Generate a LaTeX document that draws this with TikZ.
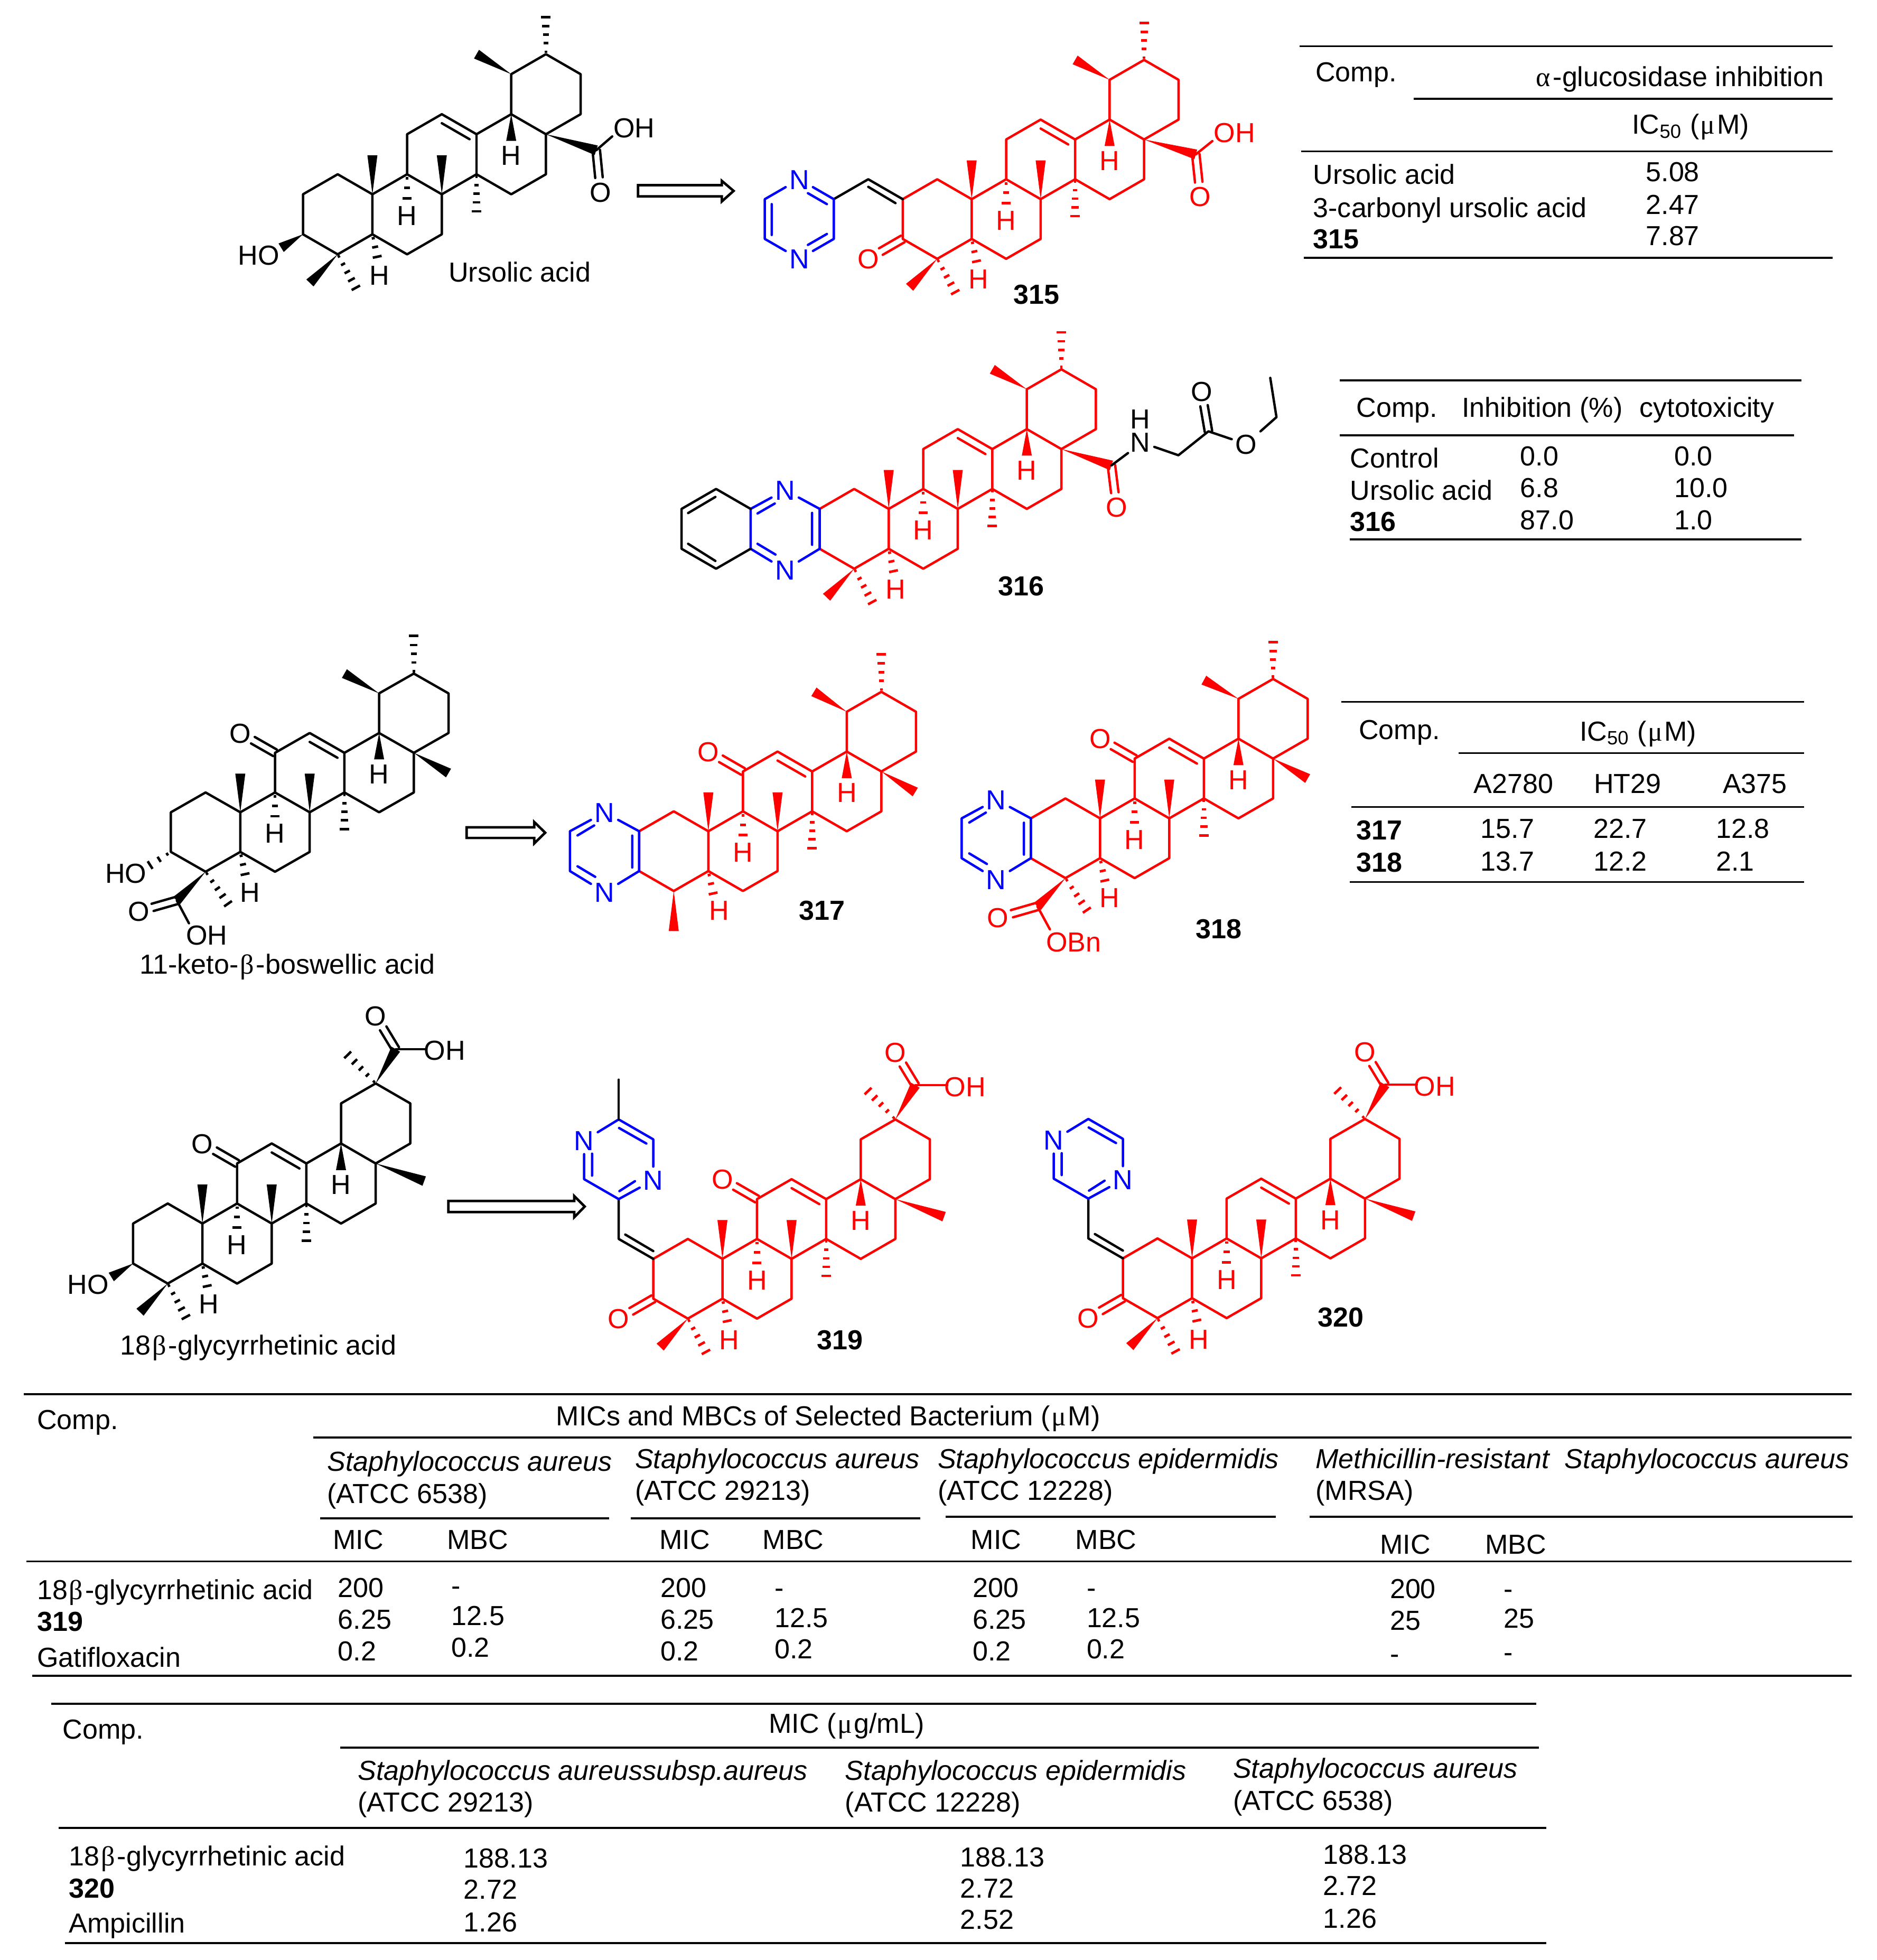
\documentclass[tikz,border=0pt]{standalone}
\usepackage{fontspec}
\setmainfont{Liberation Sans}
\newfontfamily\grk{Liberation Serif}
\usetikzlibrary{calc}
\newcount\nn
\newcommand\bet{{\grk\kern.05em β\kern.08em}}
\newcommand\mun{{\grk\kern.05em μ\kern.06em}}
\newcommand\alp{{\grk α\kern.1em}}
\tikzset{
 atom/.style={font=\fontsize{11}{13}\selectfont,inner sep=1pt,text height=7.9pt,text depth=0pt},
 tlab/.style={font=\fontsize{11}{13}\selectfont,inner sep=0pt,text height=7.9pt,text depth=0pt,anchor=west},
 tline/.style={line width=.8pt,line cap=butt},
 hollow/.style={draw=black,fill=white,line width=1pt,line join=miter},
}
\newcommand\wedgeb[2]{\fill (#1) -- ($(#2)!2pt!90:(#1)$) -- ($(#2)!2pt!-90:(#1)$) -- cycle;}
\newcommand\hashb[2]{\foreach \hp/\hw in {.06/.5pt,.28/.9pt,.5/1.2pt,.72/1.5pt,.95/1.9pt}{%
  \coordinate (hm) at ($(#1)!\hp!(#2)$);
  \draw[line width=1pt,line cap=butt] ($(hm)!\hw!90:(#1)$) -- ($(hm)!\hw!-90:(#1)$);}}
\newcommand\hashs[2]{\foreach \hp/\hw in {.16/.6pt,.52/1.2pt,.92/1.8pt}{%
  \coordinate (hm) at ($(#1)!\hp!(#2)$);
  \draw[line width=1pt,line cap=butt] ($(hm)!\hw!90:(#1)$) -- ($(hm)!\hw!-90:(#1)$);}}
\newcommand\dblo[2]{%
  \draw[shorten >=5.8pt] ($(#1)!1.5pt!90:(#2.center)$) -- ($(#2.center)!1.5pt!-90:(#1)$);
  \draw[shorten >=5.8pt] ($(#1)!1.5pt!-90:(#2.center)$) -- ($(#2.center)!1.5pt!90:(#1)$);}
\newcommand\lab[2]{\global\advance\nn by 1 \node[atom] (a\the\nn) at (#1) {#2};}
\newcommand\tx[3]{\global\advance\nn by 1 \node[tlab] (a\the\nn) at ({#1-1.3},{#2-.8}) {#3};}
% core skeleton; #1 = position of the C5 H label
\newcommand\core[1]{%
 \coordinate (c1) at (1,4); \coordinate (c2) at (0,3); \coordinate (c3) at (0,1); \coordinate (c4) at (1,0);
 \coordinate (c5) at (2,1); \coordinate (c6) at (3,0); \coordinate (c7) at (4,1); \coordinate (c8) at (4,3);
 \coordinate (c9) at (3,4); \coordinate (c10) at (2,3); \coordinate (c11) at (3,6); \coordinate (c12) at (4,7);
 \coordinate (c13) at (5,6); \coordinate (c14) at (5,4); \coordinate (c15) at (6,3); \coordinate (c16) at (7,4);
 \coordinate (c17) at (7,6); \coordinate (c18) at (6,7); \coordinate (c19) at (6,9); \coordinate (c20) at (7,10);
 \coordinate (c21) at (8,9); \coordinate (c22) at (8,7);
 \draw (c4)--(c3)--(c2)--(c1)--(c10)--(c5)--(c4) (c10)--(c9)--(c8)--(c7)--(c6)--(c5)
  (c9)--(c11)--(c12)--(c13)--(c14)--(c8) (c13)--(c18)--(c17)--(c16)--(c15)--(c14)
  (c18)--(c19)--(c20)--(c21)--(c22)--(c17);
 \coordinate (d1) at (4,6.55); \coordinate (d2) at (4.8,5.75); \draw (d1)--(d2);
 \wedgeb{c10}{2,4.95} \wedgeb{c8}{4,4.95} \wedgeb{c18}{6,5.67}
 \hashs{c9}{3,2.7} \hashb{c14}{5,2.05} \hashs{c5}{2.15,-.22}
 \lab{3,1.95}{H} \lab{6,4.95}{H} \lab{#1}{H}
}
\newcommand\ursE{\wedgeb{c19}{5,10} \hashb{c20}{7,11.95}}
\newcommand\gem{\wedgeb{c4}{.2,-1.43} \hashb{c4}{1.55,-1.76}}
\newcommand\ketone{\node[atom] (o11) at (2,7) {O}; \dblo{c11}{o11}}
\newcommand\glycE{%
 \coordinate (gc) at (7.58,11.72); \wedgeb{c20}{gc} \hashb{c20}{6.17,11.5}
 \node[atom] (go) at (7,13.38) {O}; \dblo{gc}{go}
 \coordinate (gh) at (8.5,11.72); \draw (gc)--(gh); \lab{9.02,11.66}{OH}
 \wedgeb{c17}{8.41,5.12}}
\newcommand\exoketo{%
 \node[atom] (o3) at (-1,0) {O}; \dblo{c3}{o3}}
\newcommand\pyrazup{% pyrazine standing on the exocyclic CH, for 319 and 320
 \coordinate (ch) at (-1,4); \coordinate (p1) at (-1,6); \coordinate (p3) at (0,9);
 \coordinate (p4) at (-1,10); \coordinate (p6) at (-2,7);
 \node[atom,blue] (n1) at (0,6.95) {N}; \node[atom,blue] (n2) at (-2,8.94) {N};
 \draw[black] (c2)--(ch)--(p1);
 \draw[black] (-.81,4.22)--(0,3.39);
 \draw[blue] (p1)--(n1) (n1)--(p3)--(p4)--(n2) (n2)--(p6)--(p1);
 \draw[blue] (-.98,6.4)--(-.53,6.9) (-.2,8.79)--(-.99,9.57) (-1.77,8.28)--(-1.77,7.18);}
\newcommand\fusedpyr{% pyrazine fused on C2-C3, for 317 and 318
 \coordinate (q1) at (-2,3); \coordinate (q2) at (-2,1);
 \node[atom,blue] (nt) at (-1,3.94) {N}; \node[atom,blue] (nb) at (-1,-.06) {N};
 \draw[blue] (c2)--(c3) (c2)--(nt)--(q1)--(q2)--(nb)--(c3);
 \draw[blue] (-.2,2.78)--(-.2,1.18) (-1.78,2.79)--(-1.3,3.29) (-1.78,1.24)--(-1.27,.71);}
\begin{document}
\begin{tikzpicture}[x=.5pt,y=-.5pt,line width=.95pt,line cap=round,line join=round]
\useasboundingbox (0,0) rectangle (1500,1566.7);

%% Ursolic acid
\begin{scope}[shift={(242.2,203.3)},x=13.87pt,y=8pt]
 \core{2.2,-1.03} \ursE \gem
 \coordinate (cc) at (8.45,5.2); \wedgeb{c17}{cc}
 \node[atom] (ox) at (8.57,3.11) {O}; \dblo{cc}{ox}
 \coordinate (oh) at (8.91,5.89); \draw (cc)--(oh); \lab{9.54,6.32}{OH}
 \wedgeb{c3}{-.63,.33} \lab{-1.28,-.04}{HO}
\end{scope}
\tx{359}{218.2}{Ursolic acid}
\draw[hollow] (510,148)--(577,148)--(577,144.6)--(586.4,152.6)--(577,161)--(577,157)--(510,157)--cycle;

%% 315
\begin{scope}[shift={(721.6,206.9)},x=13.78pt,y=7.95pt,color=red]
 \core{2.2,-1} \ursE \gem \exoketo
 \coordinate (cc) at (8.5,5.25); \wedgeb{c17}{cc}
 \node[atom] (ox) at (8.63,3.13) {O}; \dblo{cc}{ox}
 \coordinate (oh) at (8.98,5.92); \draw (cc)--(oh); \lab{9.62,6.34}{OH}
 \coordinate (ch) at (-1,4); \coordinate (p1) at (-2,3); \coordinate (p2) at (-2,1);
 \coordinate (p4) at (-4,1); \coordinate (p5) at (-4,3);
 \node[atom,blue] (n1) at (-3,4) {N}; \node[atom,blue] (n2) at (-3,0) {N};
 \draw[black] (c2)--(ch)--(p1) (-1,3.62)--(-.21,2.8);
 \draw[blue] (n1)--(p1)--(p2)--(n2)--(p4)--(p5)--(n1);
 \draw[blue] (-2.2,2.75)--(-2.75,3.3) (-2.2,1.25)--(-2.75,.7) (-3.8,2.75)--(-3.8,1.2);
\end{scope}
\tx{810.5}{236}{\bfseries 315}

%% 316
\begin{scope}[shift={(655.2,454.6)},x=13.8pt,y=7.97pt,color=red]
 \core{2.2,-1.01} \ursE \gem
 \coordinate (b1) at (-2,3); \coordinate (b2) at (-2,1); \coordinate (b3) at (-3,4);
 \coordinate (b4) at (-4,3); \coordinate (b5) at (-4,1); \coordinate (b6) at (-3,0);
 \node[atom,blue] (nt) at (-1,3.94) {N}; \node[atom,blue] (nb) at (-1,-.05) {N};
 \draw[blue] (c2)--(c3) (c2)--(nt)--(b1)--(b2)--(nb)--(c3);
 \draw[blue] (-.22,2.8)--(-.22,1.2) (-1.8,2.77)--(-1.3,3.27) (-1.8,1.25)--(-1.28,.71);
 \draw[black] (b1)--(b3)--(b4)--(b5)--(b6)--(b2) (-3.02,3.6)--(-3.81,2.79) (-3.81,1.25)--(-3.02,.39);
 \coordinate (cc) at (8.45,5.18); \wedgeb{c17}{cc}
 \node[atom] (ox) at (8.6,3.09) {O}; \dblo{cc}{ox}
 \node[black,font=\fontsize{11}{9.3}\selectfont,align=center,inner sep=0pt] (nh) at (9.29,6.92) {H\\N};
 \coordinate (nl) at (8.93,5.8); \coordinate (nr) at (9.69,6.11);
 \coordinate (ch2) at (10.39,5.69); \coordinate (cb) at (11.26,6.89);
 \node[atom,black] (o2) at (11.06,8.89) {O}; \node[atom,black] (oe) at (12.35,6.25) {O};
 \coordinate (e1) at (13.23,7.6); \coordinate (e2) at (13.05,9.57);
 \draw[black] (cc)--(nl) (nr)--(ch2)--(cb)--(oe)--(e1)--(e2);
 \begin{scope}[color=black]\dblo{cb}{o2}\end{scope}
\end{scope}
\tx{798.2}{469}{\bfseries 316}

%% 11-keto-beta-boswellic acid
\begin{scope}[shift={(136.6,696.8)},x=13.87pt,y=7.92pt]
 \core{2.28,-1.03} \wedgeb{c19}{5,10} \hashb{c20}{7,12} \ketone
 \wedgeb{c17}{8,4.98}
 \hashs{c3}{-.65,.28} \lab{-1.3,-.06}{HO}
 \coordinate (cc) at (.17,-1.45); \wedgeb{c4}{cc} \hashb{c4}{1.68,-1.7}
 \node[atom] (ox) at (-.93,-2) {O}; \dblo{cc}{ox}
 \coordinate (oh) at (.52,-2.6); \draw (cc)--(oh); \lab{1.03,-3.2}{OH}
\end{scope}
\tx{112}{771.2}{11-keto-\bet-boswellic acid}
\draw[hollow] (373,661.3)--(427,661.3)--(427,657)--(435.8,665.6)--(427,674.2)--(427,669.8)--(373,669.8)--cycle;

%% 317
\begin{scope}[shift={(510.9,712.2)},x=13.83pt,y=7.96pt,color=red]
 \core{2.31,-.97} \wedgeb{c19}{5.05,10} \hashb{c20}{7,11.98} \ketone \wedgeb{c17}{7.98,4.97}
 \wedgeb{c4}{1,-2.01} \fusedpyr
\end{scope}
\tx{639}{728.3}{\bfseries 317}

%% 318
\begin{scope}[shift={(824,701.9)},x=13.83pt,y=7.96pt,color=red]
 \core{2.28,-.98} \wedgeb{c19}{5,9.94} \hashb{c20}{7,11.95} \ketone \wedgeb{c17}{8,5}
 \fusedpyr
 \coordinate (cc) at (.19,-1.42); \wedgeb{c4}{cc} \hashb{c4}{1.65,-1.69}
 \node[atom] (ox) at (-.95,-1.99) {O}; \dblo{cc}{ox}
 \coordinate (oh) at (.55,-2.57); \draw (cc)--(oh); \lab{1.24,-3.2}{OBn}
\end{scope}
\tx{956.2}{743}{\bfseries 318}

%% 18beta-glycyrrhetinic acid
\begin{scope}[shift={(106.4,1026)},x=13.85pt,y=8pt]
 \core{2.19,-1} \ketone
 \coordinate (gc) at (7.58,11.71); \wedgeb{c20}{gc} \hashb{c20}{6.15,11.5}
 \node[atom] (go) at (7,13.37) {O}; \dblo{gc}{go}
 \coordinate (gh) at (8.45,11.71); \draw (gc)--(gh); \lab{8.99,11.65}{OH}
 \wedgeb{c17}{8.4,5.12} \gem
 \wedgeb{c3}{-.63,.33} \lab{-1.3,-.04}{HO}
\end{scope}
\tx{96.5}{1076}{18\bet-glycyrrhetinic acid}
\draw[hollow] (358.4,960)--(459,960)--(459,956)--(467.4,964.4)--(459,973)--(459,968.8)--(358.4,968.8)--cycle;

%% 319
\begin{scope}[shift={(522.2,1054)},x=13.82pt,y=7.96pt,color=red]
 \core{2.2,-1.05} \ketone \glycE \gem \exoketo \pyrazup
 \coordinate (me) at (-1,12.01); \draw[black,line width=.7pt] (p4)--(me);
\end{scope}
\tx{653.5}{1071.8}{\bfseries 319}

%% 320
\begin{scope}[shift={(897.6,1053.6)},x=13.82pt,y=7.96pt,color=red]
 \core{2.2,-1.05} \glycE \gem \exoketo \pyrazup
\end{scope}
\tx{1053.7}{1053.6}{\bfseries 320}

%% Table 1
\draw[tline] (1039,37)--(1465,37) (1130,79)--(1465,79) (1040,121)--(1465,121) (1042,206)--(1465,206);
\tx{1052}{58}{Comp.}
\tx{1228}{62}{\alp-glucosidase inhibition}
\tx{1305}{100}{IC\textsubscript{50} (\mun M)}
\tx{1050}{140}{Ursolic acid} \tx{1316}{138}{5.08}
\tx{1050}{166.5}{3-carbonyl ursolic acid} \tx{1316}{164}{2.47}
\tx{1050}{191.5}{\bfseries 315} \tx{1316}{189}{7.87}

%% Table 2
\draw[tline] (1071,304)--(1440,304) (1071,348)--(1434,348) (1079,431)--(1440,431);
\tx{1084.6}{326.5}{Comp.} \tx{1169}{326.5}{Inhibition (\%)} \tx{1311}{326.5}{cytotoxicity}
\tx{1079.7}{366.8}{Control} \tx{1215.6}{365}{0.0} \tx{1338.6}{365}{0.0}
\tx{1079.7}{392.5}{Ursolic acid} \tx{1215.6}{390.6}{6.8} \tx{1338.6}{390.6}{10.0}
\tx{1079.7}{417.4}{\bfseries 316} \tx{1215.6}{416.2}{87.0} \tx{1338.6}{416.2}{1.0}

%% Table 3
\draw[tline] (1072,561)--(1442,561) (1166,602)--(1442,602) (1080,645)--(1442,645) (1079,705)--(1442,705);
\tx{1086.5}{584}{Comp.} \tx{1263}{585}{IC\textsubscript{50} (\mun M)}
\tx{1178.5}{627}{A2780} \tx{1274.5}{627}{HT29} \tx{1377.5}{627}{A375}
\tx{1084.5}{664}{\bfseries 317} \tx{1184}{663}{15.7} \tx{1274}{663}{22.7} \tx{1372}{663}{12.8}
\tx{1084.5}{690}{\bfseries 318} \tx{1184}{689}{13.7} \tx{1274}{689}{12.2} \tx{1372}{689}{2.1}

%% Table 4
\draw[tline] (19,1114.5)--(1480,1114.5) (250.6,1149.1)--(1480,1149.1)
 (256,1213.5)--(487,1213.5) (504,1213.5)--(735.5,1213.5) (756,1212.5)--(1020,1212.5) (1047,1212.5)--(1481,1212.5)
 (21,1248.1)--(1480,1248.1) (25.7,1339.6)--(1480,1339.6);
\tx{30}{1135.5}{Comp.}
\tx{445}{1132.3}{MICs and MBCs of Selected Bacterium (\mun M)}
\tx{262}{1168.6}{\itshape Staphylococcus aureus} \tx{262}{1194.5}{(ATCC 6538)}
\tx{508}{1166.5}{\itshape Staphylococcus aureus} \tx{508}{1192}{(ATCC 29213)}
\tx{750}{1166.5}{\itshape Staphylococcus epidermidis} \tx{750}{1192}{(ATCC 12228)}
\tx{1052}{1166.5}{\itshape Methicillin-resistant\hspace{.55em}Staphylococcus aureus} \tx{1052}{1192}{(MRSA)}
\tx{266.6}{1231.4}{MIC} \tx{357.8}{1231.4}{MBC}
\tx{527.5}{1231.4}{MIC} \tx{610}{1231.4}{MBC}
\tx{776.4}{1231.4}{MIC} \tx{860}{1231.4}{MBC}
\tx{1103.6}{1235}{MIC} \tx{1187.5}{1235}{MBC}
\tx{30}{1271.2}{18\bet-glycyrrhetinic acid} \tx{30}{1296.8}{\bfseries 319} \tx{30}{1325.5}{Gatifloxacin}
\tx{270.5}{1269.8}{200} \tx{270.5}{1295.2}{6.25} \tx{270.5}{1320.4}{0.2}
\tx{361}{1267.9}{-} \tx{361}{1292}{12.5} \tx{361}{1317.2}{0.2}
\tx{528.4}{1269.8}{200} \tx{528.4}{1295.2}{6.25} \tx{528.4}{1320.4}{0.2}
\tx{619.6}{1269.8}{-} \tx{619.6}{1293.7}{12.5} \tx{619.6}{1318.8}{0.2}
\tx{778}{1269.8}{200} \tx{778}{1295.2}{6.25} \tx{778}{1320.4}{0.2}
\tx{869}{1269.8}{-} \tx{869}{1293.7}{12.5} \tx{869}{1318.8}{0.2}
\tx{1111.4}{1270.6}{200} \tx{1111.4}{1296}{25} \tx{1111.4}{1322.5}{-}
\tx{1202.3}{1270.6}{-} \tx{1202.3}{1294.3}{25} \tx{1202.3}{1321}{-}

%% Table 5
\draw[tline] (41,1362)--(1228,1362) (272,1397)--(1230,1397) (47,1461)--(1236,1461) (52,1553)--(1236,1553);
\tx{50.5}{1383}{Comp.} \tx{615}{1378}{MIC (\mun g/mL)}
\tx{286.5}{1416}{\itshape Staphylococcus aureussubsp.aureus} \tx{286.5}{1441}{(ATCC 29213)}
\tx{676}{1416}{\itshape Staphylococcus epidermidis} \tx{676}{1441}{(ATCC 12228)}
\tx{986}{1414}{\itshape Staphylococcus aureus} \tx{986}{1440}{(ATCC 6538)}
\tx{55.5}{1484}{18\bet-glycyrrhetinic acid} \tx{55.5}{1510}{\bfseries 320} \tx{55.5}{1538}{Ampicillin}
\tx{371}{1486}{188.13} \tx{371}{1511}{2.72} \tx{371}{1537}{1.26}
\tx{768}{1485}{188.13} \tx{768}{1510}{2.72} \tx{768}{1535}{2.52}
\tx{1058}{1483}{188.13} \tx{1058}{1508}{2.72} \tx{1058}{1534}{1.26}
\end{tikzpicture}
\end{document}
